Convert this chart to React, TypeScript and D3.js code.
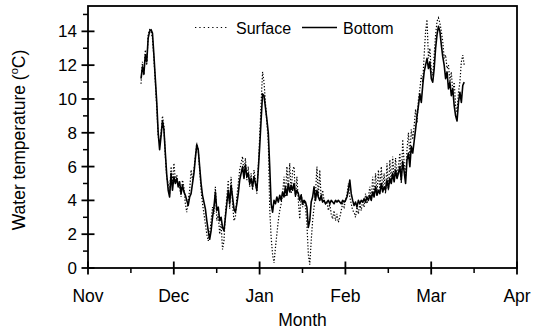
import { useEffect, useRef } from "react";
import * as d3 from "d3";

const months = ["Nov", "Dec", "Jan", "Feb", "Mar", "Apr"];
const yTicks = [0, 2, 4, 6, 8, 10, 12, 14];
const yMinor = [1, 3, 5, 7, 9, 11, 13, 15];
const startMonth = 0.618; // first reading, ~19 Nov (months after 1 Nov)
const stepMonth = 1 / 60; // half a day between readings

const surface = [
  10.9, 12.2, 11.4, 12.9, 12.0, 13.8, 14.1, 14.0, 13.6, 12.4,
  11.0, 9.5, 7.8, 7.4, 8.0, 9.0, 8.4, 6.6, 5.3, 5.0,
  4.4, 6.0, 5.0, 6.2, 5.2, 5.5, 5.0, 4.8, 4.2, 5.2,
  4.8, 3.8, 3.3, 4.0, 4.6, 5.8, 5.2, 5.8, 6.6, 7.4,
  7.0, 5.8, 4.6, 3.8, 3.2, 2.6, 2.0, 1.6, 2.0, 2.8,
  3.6, 3.2, 4.8, 2.8, 3.2, 2.0, 2.6, 1.1, 1.6, 3.2,
  4.2, 5.2, 3.5, 5.4, 3.8, 2.8, 3.0, 4.2, 5.0, 5.8,
  6.2, 6.6, 5.6, 6.5, 5.2, 6.0, 4.8, 5.6, 4.6, 5.8,
  5.2, 4.4, 6.0, 7.8, 9.8, 11.6, 11.0, 9.8, 8.6, 7.5,
  3.5, 1.8, 0.8, 0.3, 1.2, 2.0, 2.8, 3.4, 3.8, 4.4,
  5.4, 4.2, 6.0, 4.6, 6.2, 4.4, 5.8, 6.0, 4.2, 5.4,
  4.0, 2.9, 4.4, 3.6, 4.0, 3.6, 2.6, 0.8, 0.2, 1.6,
  2.8, 3.6, 4.4, 6.0, 4.2, 5.8, 4.0, 4.6, 4.0, 3.8,
  3.9, 3.4, 3.8, 3.2, 2.9, 3.4, 2.8, 3.2, 2.7, 3.0,
  3.4, 3.8, 3.6, 4.0, 4.3, 5.0, 4.2, 3.8, 3.4, 3.3,
  3.0, 3.6, 3.2, 3.8, 3.4, 4.0, 3.6, 4.4, 3.8, 4.2,
  4.8, 4.0, 5.4, 4.2, 5.6, 4.4, 5.8, 4.6, 6.0, 4.6,
  5.6, 4.4, 6.2, 4.6, 6.4, 5.0, 6.6, 5.2, 6.5, 5.4,
  6.0, 6.8, 5.0, 7.6, 6.2, 5.4, 7.0, 8.0, 6.6, 8.2,
  7.6, 8.4, 9.4, 8.6, 10.0, 10.6, 11.4, 11.0, 12.6, 14.0,
  14.7, 12.4, 13.0, 11.6, 11.4, 12.6, 13.8, 14.6, 14.8, 14.5,
  14.0, 13.4, 12.4, 12.6, 11.8, 12.0, 11.0, 11.6, 10.4, 11.0,
  9.6, 9.2, 10.4, 11.0, 12.2, 12.6, 12.0,
];

const bottom = [
  11.2, 11.9, 11.5, 12.6, 12.2, 13.6, 14.0, 14.1, 13.9, 12.6,
  11.2, 9.8, 8.0, 7.0, 7.8, 8.7, 8.2, 6.8, 5.5, 4.6,
  4.2, 5.6, 4.6, 5.4, 5.0, 5.3, 4.8, 5.1, 4.4, 4.9,
  4.5, 4.3, 4.0, 3.7, 4.2, 4.4, 5.0, 5.6, 6.5, 7.3,
  7.0, 6.0, 5.0, 4.3, 3.9, 3.5, 2.8, 2.2, 1.7, 2.2,
  3.0, 3.6, 4.5, 3.4, 3.6, 2.8, 3.0, 2.4, 2.2, 3.0,
  3.8, 4.6, 3.8, 4.9, 4.2, 3.5, 3.3, 3.8, 4.4, 5.2,
  5.6, 6.0, 5.3, 6.1, 5.4, 5.6, 5.0, 5.3, 4.8, 5.4,
  5.0, 4.6, 5.8, 7.2, 8.8, 10.3, 10.2, 9.5, 8.8, 8.0,
  6.0, 3.8, 3.3, 4.0, 3.8, 4.2, 3.9, 4.3, 4.0, 4.5,
  4.2, 4.8, 4.3, 5.0, 4.5, 4.9, 4.6, 5.0, 4.3, 4.6,
  4.4, 4.0, 4.3, 3.8, 4.0, 3.9, 3.6, 2.4, 2.8, 3.9,
  4.2, 4.8, 4.0, 4.6, 4.2, 4.0, 4.3, 3.9, 4.0, 3.8,
  3.9, 4.0, 3.8, 4.0, 3.9, 3.8, 4.0, 3.9, 4.0, 3.9,
  3.8, 4.0, 3.9, 4.0, 4.2, 4.6, 5.2, 4.4, 4.0, 3.7,
  3.9, 3.6, 4.0, 3.8, 4.0, 3.9, 4.1, 3.9, 4.2, 4.0,
  4.3, 4.0, 4.5, 4.2, 4.8, 4.3, 4.6, 4.4, 5.0, 4.5,
  4.8, 4.6, 5.2, 4.7, 5.3, 5.0, 5.6, 5.1, 5.8, 5.3,
  5.6, 6.0, 5.2, 6.3, 5.7, 5.0, 6.4, 6.8, 6.0, 7.2,
  6.8, 7.5, 8.2, 9.0, 9.6, 10.3, 9.8, 10.8, 11.6, 12.0,
  12.4, 11.8, 12.2, 11.2, 11.0, 11.8, 13.0, 13.8, 14.3, 14.0,
  13.2, 12.5, 12.0, 11.2, 11.6, 10.6, 11.0, 10.2, 10.6, 9.6,
  9.0, 8.7, 9.8, 10.4, 9.8, 10.8, 11.0,
];

const W = 534;
const H = 329;
const margin = { top: 6, right: 17, bottom: 61, left: 88 };
const font = "Liberation Sans, Arial, Helvetica, sans-serif";

export default function App() {
  const ref = useRef<SVGSVGElement>(null);

  useEffect(() => {
    if (!ref.current) return;
    const svg = d3.select(ref.current);
    svg.selectAll("*").remove();

    const x = d3.scaleLinear().domain([0, 5]).range([margin.left, W - margin.right]);
    const y = d3.scaleLinear().domain([0, 15.5]).range([H - margin.bottom, margin.top]);

    const line = d3
      .line<number>()
      .x((_, i) => x(startMonth + i * stepMonth))
      .y((d) => y(d));

    svg
      .append("path")
      .datum(surface)
      .attr("d", line)
      .attr("fill", "none")
      .attr("stroke", "#000")
      .attr("stroke-width", 1.2)
      .attr("stroke-dasharray", "1.3,1.8");

    svg
      .append("path")
      .datum(bottom)
      .attr("d", line)
      .attr("fill", "none")
      .attr("stroke", "#000")
      .attr("stroke-width", 1.6)
      .attr("stroke-linejoin", "round");

    // frame
    svg
      .append("rect")
      .attr("x", x(0))
      .attr("y", y(15.5))
      .attr("width", x(5) - x(0))
      .attr("height", y(0) - y(15.5))
      .attr("fill", "none")
      .attr("stroke", "#000")
      .attr("stroke-width", 1.8);

    const y0 = y(0);
    const x0 = x(0);

    // y ticks
    svg
      .selectAll(".ymaj")
      .data(yTicks)
      .join("line")
      .attr("x1", x0 - 6.5)
      .attr("x2", x0 + 6.5)
      .attr("y1", (d) => y(d))
      .attr("y2", (d) => y(d))
      .attr("stroke", "#000")
      .attr("stroke-width", 1.8);
    svg
      .selectAll(".ymin")
      .data(yMinor)
      .join("line")
      .attr("x1", x0 - 5)
      .attr("x2", x0)
      .attr("y1", (d) => y(d))
      .attr("y2", (d) => y(d))
      .attr("stroke", "#000")
      .attr("stroke-width", 1.5);
    svg
      .selectAll(".ylab")
      .data(yTicks)
      .join("text")
      .attr("x", x0 - 11)
      .attr("y", (d) => y(d))
      .attr("dy", "0.35em")
      .attr("text-anchor", "end")
      .attr("font-family", font)
      .attr("font-size", 17)
      .text((d) => d);

    // x ticks
    svg
      .selectAll(".xmaj")
      .data(months)
      .join("line")
      .attr("x1", (_, i) => x(i))
      .attr("x2", (_, i) => x(i))
      .attr("y1", y0 - 6.5)
      .attr("y2", y0 + 6.5)
      .attr("stroke", "#000")
      .attr("stroke-width", 1.8);
    svg
      .selectAll(".xmin")
      .data(months.slice(0, -1))
      .join("line")
      .attr("x1", (_, i) => x(i + 0.5))
      .attr("x2", (_, i) => x(i + 0.5))
      .attr("y1", y0)
      .attr("y2", y0 + 5)
      .attr("stroke", "#000")
      .attr("stroke-width", 1.5);
    svg
      .selectAll(".xlab")
      .data(months)
      .join("text")
      .attr("x", (_, i) => x(i))
      .attr("y", 302)
      .attr("text-anchor", "middle")
      .attr("font-family", font)
      .attr("font-size", 17.5)
      .text((d) => d);

    svg
      .append("text")
      .attr("x", x(2.5))
      .attr("y", 326)
      .attr("text-anchor", "middle")
      .attr("font-family", font)
      .attr("font-size", 17.5)
      .text("Month");

    const yt = svg
      .append("text")
      .attr("transform", `translate(25,${(y(0) + y(15.5)) / 2 + 3}) rotate(-90)`)
      .attr("text-anchor", "middle")
      .attr("font-family", font)
      .attr("font-size", 17.5);
    yt.append("tspan").text("Water temperature (");
    yt.append("tspan").attr("font-size", 11).attr("dy", -7).text("o");
    yt.append("tspan").attr("dy", 7).text("C)");

    // legend
    const lg = svg.append("g");
    lg.append("line")
      .attr("x1", 195)
      .attr("x2", 228)
      .attr("y1", 27.5)
      .attr("y2", 27.5)
      .attr("stroke", "#000")
      .attr("stroke-width", 1.1)
      .attr("stroke-dasharray", "1.3,3");
    lg.append("text")
      .attr("x", 236)
      .attr("y", 33.5)
      .attr("font-family", font)
      .attr("font-size", 16)
      .text("Surface");
    lg.append("line")
      .attr("x1", 302)
      .attr("x2", 337)
      .attr("y1", 27.5)
      .attr("y2", 27.5)
      .attr("stroke", "#000")
      .attr("stroke-width", 1.3);
    lg.append("text")
      .attr("x", 343)
      .attr("y", 33.5)
      .attr("font-family", font)
      .attr("font-size", 16)
      .text("Bottom");
  }, []);

  return (
    <svg
      ref={ref}
      width={W}
      height={H}
      style={{ position: "absolute", left: 0, top: 0, background: "#fff" }}
    />
  );
}
